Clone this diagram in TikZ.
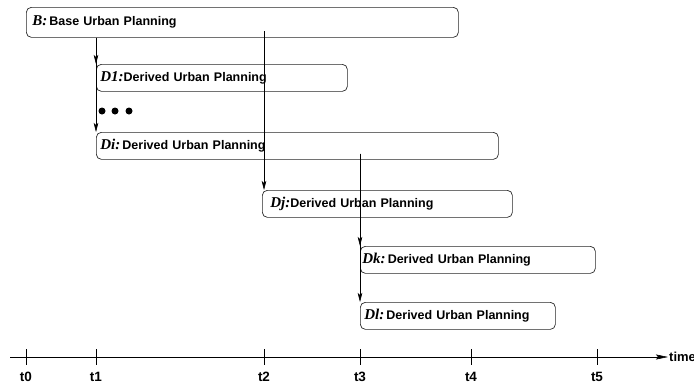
\documentclass[tikz,border=0pt]{standalone}
\usepackage{fontspec}
\setmainfont{Liberation Serif}
\setsansfont{Liberation Sans}
\usetikzlibrary{arrows.meta}

\tikzset{
  plan/.style={draw=black!85, line width=0.7pt, rounded corners=5pt,
    anchor=north west, align=left, minimum height=27pt, inner ysep=0pt,
    font=\sffamily\bfseries\fontsize{12.5}{14}\selectfont},
  flow/.style={-{Stealth[length=9pt,width=4.5pt,inset=2pt]}, line width=0.6pt},
  tick/.style={font=\sffamily\bfseries\fontsize{13.5}{14}\selectfont, anchor=base, inner sep=0pt},
}
\newcommand{\planid}[1]{{\rmfamily\bfseries\itshape\fontsize{15}{16}\selectfont #1:}}

\begin{document}
\begin{tikzpicture}[x=1pt,y=-1pt]
  \useasboundingbox (0,0) rectangle (694,383);

  % time axis
  \coordinate (origin) at (10,357);
  \node[font=\sffamily\bfseries\fontsize{13}{14}\selectfont, anchor=west, inner sep=1pt] (time) at (668,357) {time};
  \draw[line width=0.6pt, -{Stealth[length=12pt,width=5pt,inset=2pt]}] (origin) -- (time.west);
  \foreach \name/\x in {t0/26, t1/96, t2/264, t3/360, t4/471, t5/597} {
    \coordinate (\name) at (\x,357);
    \draw[line width=0.6pt] (\x,349) -- (\x,365);
    \node[tick] (\name lbl) at (\x,381) {\name};
  }

  % urban plans
  \node[plan, minimum height=30pt, inner xsep=6pt, text width=420pt] (B) at (26,7)
    {\planid{B}\,Base Urban Planning};
  \node[plan, inner xsep=4pt, text width=243pt] (D1) at (96,64)
    {\planid{D1}Derived Urban Planning};
  \node[plan, inner xsep=4pt, text width=394pt] (Di) at (96,132)
    {\planid{Di}\,Derived Urban Planning};
  \node[plan, inner xsep=8pt, text width=234pt] (Dj) at (262,190)
    {\planid{Dj}Derived Urban Planning};
  \node[plan, inner xsep=2pt, text width=231pt] (Dk) at (360,246)
    {\planid{Dk}\,Derived Urban Planning};
  \node[plan, inner xsep=4pt, text width=187pt] (Dl) at (360,302)
    {\planid{Dl}\,Derived Urban Planning};

  % more derived plans
  \foreach \x in {102,115,129}
    \fill (\x,111) circle (3.5);

  % derivations
  \draw[flow] (B.south -| t1) -- (D1.north -| t1);
  \draw[flow] (B.south -| t1) -- (Di.north -| t1);
  \draw[flow] ([yshift=6.5pt]B.south -| t2) -- (Dj.north -| t2);
  \draw[flow] ([yshift=6pt]Di.south -| t3) -- (Dk.north -| t3);
  \draw[flow] ([yshift=6pt]Di.south -| t3) -- (Dl.north -| t3);
\end{tikzpicture}
\end{document}
